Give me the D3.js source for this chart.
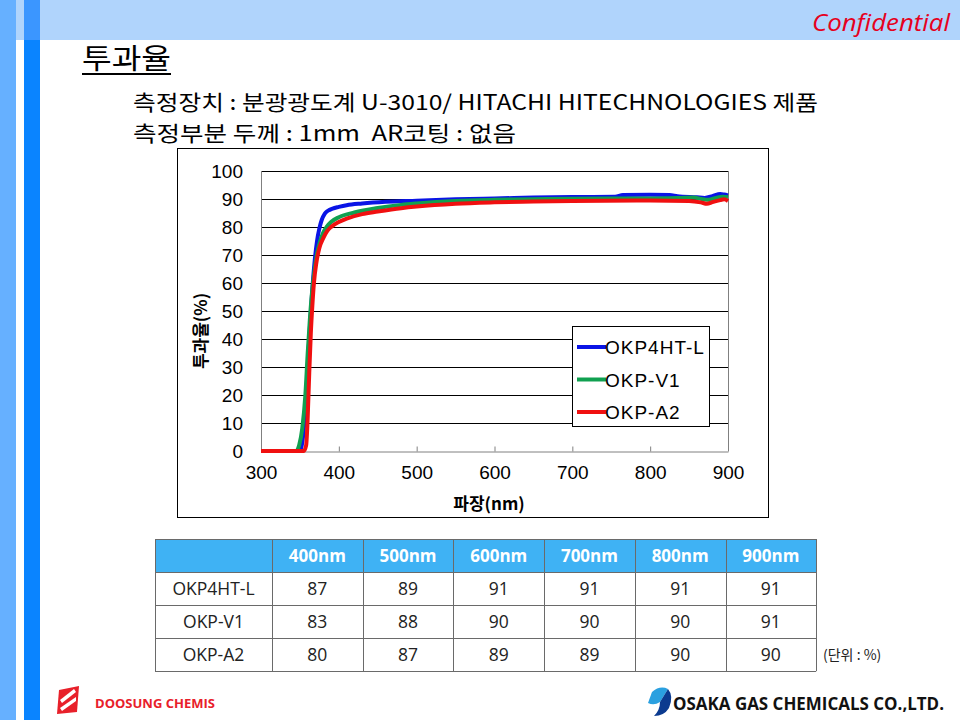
<!DOCTYPE html>
<html><head><meta charset="utf-8">
<script src="https://cdn.jsdelivr.net/npm/d3@7"></script>
<style>body{margin:0;background:#fff}svg{display:block}</style>
</head><body>
<script>
// ---------- data ----------
const xTicks = [300,400,500,600,700,800,900];
const yTicks = [0,10,20,30,40,50,60,70,80,90,100];
const seriesNames = ["OKP4HT-L","OKP-V1","OKP-A2"];
const seriesColors = ["#0a14e6","#10a050","#f01010"];

const okp4htNm = [300,350,353,357,360,363,366,369,372,375,378,382,386,392,400,410,430,460,500,550,600,650,700,755,765,800,825,835,860,870,880,890,895,900];
const okp4htT  = [0,0,3,15,30,45,58,68,75,79.5,82.5,84.8,85.8,86.6,87.2,87.8,88.4,89,89.4,89.9,90.2,90.5,90.7,90.8,91.4,91.5,91.4,91.0,90.6,90.4,91.0,91.8,91.6,91.3];

const okpv1Nm = [300,345,349,353,357,360,363,366,369,372,376,380,385,390,400,420,450,480,500,550,600,650,700,800,840,855,870,875,885,893,900];
const okpv1T  = [0,0,2,8,20,35,48,58,65,70.5,75,78,80.3,81.8,83.5,85.2,86.8,87.9,88.4,89.3,89.7,89.9,90.1,90.2,90.4,90.5,89.8,89.7,90.4,90.8,90.6];

const okpa2Nm = [300,355,358,360,362,364,366,368,371,375,380,385,390,400,410,430,450,480,500,550,600,650,700,800,850,865,873,880,890,895,900];
const okpa2T  = [0,0,2,12,28,42,52,60,67,72.5,76,78.5,80,81.8,83,84.6,85.5,86.7,87.3,88.3,88.8,89.1,89.3,89.5,89.3,88.8,88.3,88.9,89.6,89.9,89.3];

const tableCols = ["400nm","500nm","600nm","700nm","800nm","900nm"];
const tableRows = ["OKP4HT-L","OKP-V1","OKP-A2"];
const tableVals = [[87,89,91,91,91,91],[83,88,90,90,90,91],[80,87,89,89,90,90]];

// ---------- page ----------
const svg = d3.select("body").append("svg").attr("width",960).attr("height",720);
const KR = "'Noto Sans CJK KR','Noto Sans',sans-serif";
const CH = "'Liberation Sans',Arial,'Noto Sans CJK KR',sans-serif";

// header band and left stripes
svg.append("rect").attr("x",0).attr("y",0).attr("width",960).attr("height",40).attr("fill","#b0d4fc");
svg.append("rect").attr("x",0).attr("y",0).attr("width",16).attr("height",720).attr("fill","#66b0ff");
svg.append("rect").attr("x",24).attr("y",0).attr("width",16).attr("height",40).attr("fill","#3b96ff");
svg.append("rect").attr("x",24).attr("y",40).attr("width",16).attr("height",680).attr("fill","#0a84ff");

svg.append("text").attr("x",950).attr("y",31).attr("text-anchor","end")
  .attr("font-family","'Open Sans',sans-serif").attr("font-style","italic").attr("font-size",24)
  .attr("fill","#e60020").attr("textLength",138).attr("lengthAdjust","spacingAndGlyphs").text("Confidential");

// title
svg.append("text").attr("x",82).attr("y",69).attr("font-family",KR).attr("font-size",28)
  .attr("fill","#000").attr("textLength",89).attr("lengthAdjust","spacingAndGlyphs").text("투과율");
svg.append("line").attr("x1",82).attr("x2",171).attr("y1",74).attr("y2",74).attr("stroke","#000").attr("stroke-width",2);

svg.append("text").attr("x",133).attr("y",110).attr("font-family",KR).attr("font-size",21)
  .attr("textLength",685).attr("lengthAdjust","spacingAndGlyphs")
  .text("측정장치 : 분광광도계 U-3010/ HITACHI HITECHNOLOGIES 제품");
svg.append("text").attr("x",133).attr("y",141).attr("font-family",KR).attr("font-size",21)
  .attr("textLength",383).attr("lengthAdjust","spacingAndGlyphs")
  .attr("xml:space","preserve").text("측정부분 두께 : 1mm  AR코팅 : 없음");

// ---------- chart ----------
svg.append("rect").attr("x",177.5).attr("y",148.5).attr("width",591).attr("height",369)
  .attr("fill","#fff").attr("stroke","#000").attr("stroke-width",1);

const x = d3.scaleLinear().domain([300,900]).range([261,728]);
const y = d3.scaleLinear().domain([0,100]).range([451,171]);

const g = svg.append("g");
g.selectAll("line.grid").data(yTicks.filter(d=>d>0)).join("line")
  .attr("x1",x(300)).attr("x2",x(900)).attr("y1",d=>Math.round(y(d))+0.5).attr("y2",d=>Math.round(y(d))+0.5)
  .attr("stroke","#000").attr("stroke-width",1);
g.append("line").attr("x1",x(300)+0.5).attr("x2",x(300)+0.5).attr("y1",y(100)).attr("y2",y(0)).attr("stroke","#808080");
g.append("line").attr("x1",x(900)+0.5).attr("x2",x(900)+0.5).attr("y1",y(100)).attr("y2",y(0)).attr("stroke","#808080");

const xAxis = d3.axisBottom(x).tickValues(xTicks).tickSizeInner(-5).tickSizeOuter(0).tickPadding(14);
const xa = g.append("g").attr("transform",`translate(0,${Math.round(y(0))+0.5})`).call(xAxis);
xa.select(".domain").attr("stroke","#808080");
xa.selectAll(".tick line").attr("stroke","#808080");
xa.selectAll(".tick text").attr("font-family",CH).attr("font-size",19).attr("fill","#000");

const yAxis = d3.axisLeft(y).tickValues(yTicks).tickSize(0).tickPadding(18);
const ya = g.append("g").attr("transform",`translate(${x(300)},0)`).call(yAxis);
ya.select(".domain").remove();
ya.selectAll(".tick text").attr("font-family",CH).attr("font-size",19).attr("fill","#000");

svg.append("text").attr("transform","translate(207,331) rotate(-90)").attr("text-anchor","middle")
  .attr("font-family",KR).attr("font-weight","bold").attr("font-size",17).text("투과율(%)");
svg.append("text").attr("x",489).attr("y",510).attr("text-anchor","middle")
  .attr("font-family",KR).attr("font-weight","bold").attr("font-size",17).text("파장(nm)");

const series = [
  okp4htNm.map((d,i)=>[d,okp4htT[i]]),
  okpv1Nm.map((d,i)=>[d,okpv1T[i]]),
  okpa2Nm.map((d,i)=>[d,okpa2T[i]])
];
const line = d3.line().x(d=>x(d[0])).y(d=>y(d[1])).curve(d3.curveMonotoneX);
series.forEach((s,i)=>{
  g.append("path").attr("d",line(s)).attr("fill","none").attr("stroke",seriesColors[i])
    .attr("stroke-width",4).attr("stroke-linejoin","round");
});

// legend
const lg = svg.append("g");
lg.append("rect").attr("x",572.5).attr("y",326.5).attr("width",137).attr("height",100)
  .attr("fill","#fff").attr("stroke","#000");
seriesNames.forEach((n,i)=>{
  const yy = 347 + i*32.5;
  lg.append("line").attr("x1",577).attr("x2",606).attr("y1",yy).attr("y2",yy)
    .attr("stroke",seriesColors[i]).attr("stroke-width",4);
  lg.append("text").attr("x",605).attr("y",yy+7).attr("font-family",CH).attr("font-size",19)
    .attr("letter-spacing",1).text(n);
});

// ---------- table ----------
const tx0 = 155, col0w = 117, colw = 90.7, ty0 = 539, rh = 33;
const colX = [tx0].concat(tableCols.map((c,i)=>tx0+col0w+i*colw));
const tw = col0w + colw*tableCols.length;
const tg = svg.append("g");
tg.append("rect").attr("x",tx0).attr("y",ty0).attr("width",tw).attr("height",rh).attr("fill","#3fb2f4");
for(let r=0;r<=tableRows.length+1;r++){
  tg.append("line").attr("x1",tx0).attr("x2",tx0+tw).attr("y1",ty0+r*rh+0.5).attr("y2",ty0+r*rh+0.5).attr("stroke","#6a6a6a");
}
colX.concat([tx0+tw]).forEach(cx=>{
  tg.append("line").attr("x1",Math.round(cx)+0.5).attr("x2",Math.round(cx)+0.5).attr("y1",ty0).attr("y2",ty0+rh*(tableRows.length+1)).attr("stroke","#6a6a6a");
});
const TF = "'Open Sans','Noto Sans',sans-serif";
tableCols.forEach((c,i)=>{
  tg.append("text").attr("x",colX[i+1]+colw/2).attr("y",ty0+rh/2+6).attr("text-anchor","middle")
    .attr("font-family",TF).attr("font-weight","bold").attr("font-size",17).attr("fill","#fff").text(c);
});
tableRows.forEach((rname,r)=>{
  const cy = ty0+(r+1)*rh+rh/2+6;
  tg.append("text").attr("x",tx0+col0w/2).attr("y",cy).attr("text-anchor","middle")
    .attr("font-family",TF).attr("font-size",17.5).attr("fill","#222").text(rname);
  tableVals[r].forEach((v,i)=>{
    tg.append("text").attr("x",colX[i+1]+colw/2).attr("y",cy).attr("text-anchor","middle")
      .attr("font-family",TF).attr("font-size",17.5).attr("fill","#222").text(v);
  });
});
svg.append("text").attr("x",823).attr("y",660).attr("font-family",KR).attr("font-size",14).attr("fill","#222").text("(단위 : %)");

// ---------- logos ----------
const lgo = svg.append("g");
lgo.append("path").attr("d","M59,690 L79,686 L77,712 L57,714 Z").attr("fill","#e8202a");
lgo.append("path").attr("d","M60,700 L74,689 L76,692 L62,703 Z").attr("fill","#fff");
lgo.append("path").attr("d","M60,708 L76,697 L76,701 L62,711 Z").attr("fill","#fff");
lgo.append("text").attr("x",95).attr("y",708).attr("font-family","'Open Sans',sans-serif").attr("font-weight","bold")
  .attr("font-size",13).attr("fill","#e8202a").attr("textLength",120).attr("lengthAdjust","spacingAndGlyphs").text("DOOSUNG CHEMIS");

lgo.append("path").attr("d","M652,692 Q660,685 668,689 L660,702 Q654,706 648,703 Z").attr("fill","#2aa0e0");
lgo.append("path").attr("d","M660,702 L668,689 Q674,696 669,708 Q664,716 654,716 Q660,710 660,702 Z").attr("fill","#0b3a8f");
lgo.append("text").attr("x",673).attr("y",710).attr("font-family","'Open Sans',sans-serif").attr("font-weight","bold")
  .attr("font-size",17).attr("fill","#111").attr("textLength",271).attr("lengthAdjust","spacingAndGlyphs").text("OSAKA GAS CHEMICALS CO.,LTD.");
</script>
</body></html>
